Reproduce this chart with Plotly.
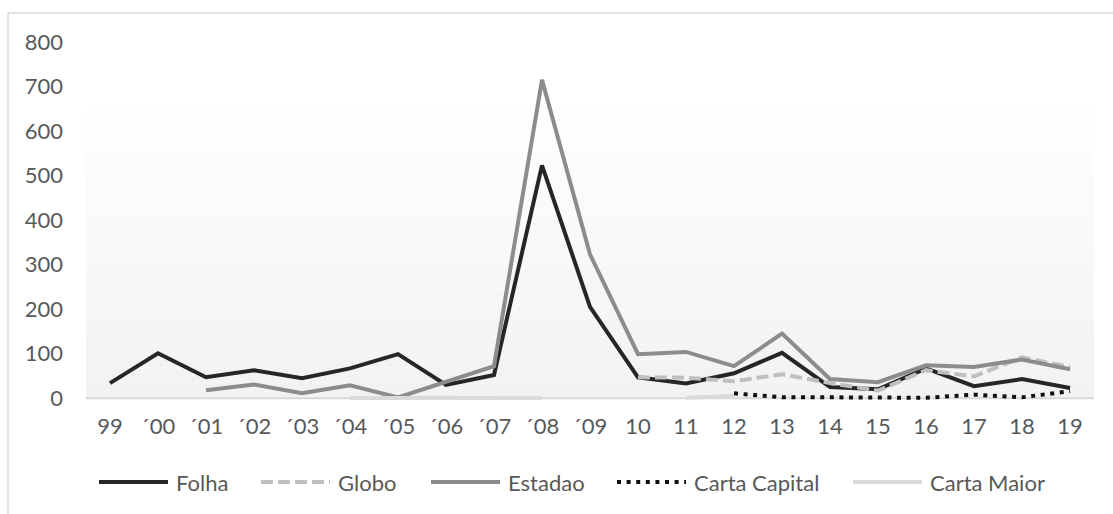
import plotly.graph_objects as go

# Year categories along the x axis
years = ["99", "´00", "´01", "´02", "´03", "´04", "´05", "´06", "´07", "´08", "´09",
         "10", "11", "12", "13", "14", "15", "16", "17", "18", "19"]

# Article counts per outlet (None = no data for that year)
folha = [34, 101, 47, 63, 45, 67, 99, 30, 52, 523, 205,
         47, 33, 56, 102, 25, 20, 67, 27, 43, 23]
globo = [None, None, None, None, None, None, None, None, None, None, None,
         47, 46, 38, 54, 34, 17, 63, 49, 92, 70]
estadao = [None, None, 18, 31, 11, 29, 2, 36, 72, 715, 323,
           99, 104, 72, 145, 43, 36, 74, 70, 87, 65]
carta_capital = [None, None, None, None, None, None, None, None, None, None, None,
                 None, None, 11, 2, 2, 1, 1, 8, 2, 16]
carta_maior = [None, None, None, None, None, 0, 1, 1, 0, 0, None,
               None, 1, 5, None, None, None, None, None, None, None]

FONT = "Lato"
TXT = "#595959"
FS = 22

# Plot-area geometry in pixels (used to place the legend in paper coordinates)
W, H = 1113, 514
L, R, T, B = 86, 19, 42, 114
PW, PH = W - L - R, H - T - B


def px_x(px):
    return (px - L) / PW


def px_y(py):
    return (H - B - py) / PH


series = [
    ("Folha", folha, dict(color="#262626", width=4)),
    ("Globo", globo, dict(color="#bfbfbf", width=4, dash="12px,5px")),
    ("Estadao", estadao, dict(color="#8c8c8c", width=4)),
    ("Carta Capital", carta_capital, dict(color="#111111", width=4, dash="4px,5.6px")),
    ("Carta Maior", carta_maior, dict(color="#d9d9d9", width=4)),
]

fig = go.Figure()
for name, vals, line in series:
    fig.add_trace(go.Scatter(x=years, y=vals, name=name, mode="lines",
                             line=line, connectgaps=False, showlegend=False))

shapes = []
annotations = []

# Vertical gradient in the plot area (white at the top, light grey at the zero line)
n_bands = 40
top_val = 692
for i in range(n_bands):
    y0 = top_val * i / n_bands
    y1 = top_val * (i + 1) / n_bands
    t = i / (n_bands - 1)
    c = round(242 + (255 - 242) * t)
    shapes.append(dict(type="rect", xref="x domain", yref="y",
                       x0=0, x1=1, y0=y0, y1=y1,
                       fillcolor=f"rgb({c},{c},{c})", line=dict(width=0),
                       layer="below"))

# Zero baseline
shapes.append(dict(type="line", xref="x domain", yref="y", x0=0, x1=1, y0=0, y1=0,
                   line=dict(color="#d9d9d9", width=2), layer="below"))

# Chart-area border
shapes.append(dict(type="rect", xref="paper", yref="paper",
                   x0=px_x(8), x1=1.2, y0=-0.6, y1=px_y(13),
                   line=dict(color="#d9d9d9", width=1.5), fillcolor="rgba(0,0,0,0)"))

# Legend: long line samples followed by the series name
legend_y = 482
sample_starts = [99, 261, 431, 617, 853]
sample_len = 69
for (name, _, line), sx in zip(series, sample_starts):
    shapes.append(dict(type="line", xref="paper", yref="paper",
                       x0=px_x(sx), x1=px_x(sx + sample_len),
                       y0=px_y(legend_y), y1=px_y(legend_y),
                       line=dict(color=line["color"], width=line["width"],
                                 dash=line.get("dash", "solid"))))
    annotations.append(dict(text=name, xref="paper", yref="paper",
                            x=px_x(sx + sample_len + 6), y=px_y(legend_y),
                            xanchor="left", yanchor="middle", showarrow=False,
                            font=dict(family=FONT, size=FS, color=TXT)))

fig.update_layout(
    width=W, height=H,
    margin=dict(l=L, r=R, t=T, b=B),
    paper_bgcolor="white",
    plot_bgcolor="white",
    font=dict(family=FONT, color=TXT, size=FS),
    shapes=shapes,
    annotations=annotations,
    showlegend=False,
    xaxis=dict(type="category", range=[-0.5, 20.5], showgrid=False, zeroline=False,
               showline=False, ticks="", tickfont=dict(family=FONT, size=FS, color=TXT),
               ticklabelstandoff=11, fixedrange=True),
    yaxis=dict(range=[-4, 800], dtick=100, tick0=0, showgrid=False, zeroline=False,
               showline=False, ticks="", tickfont=dict(family=FONT, size=FS, color=TXT),
               ticklabelstandoff=22, fixedrange=True),
)

fig.write_html("out.html")
